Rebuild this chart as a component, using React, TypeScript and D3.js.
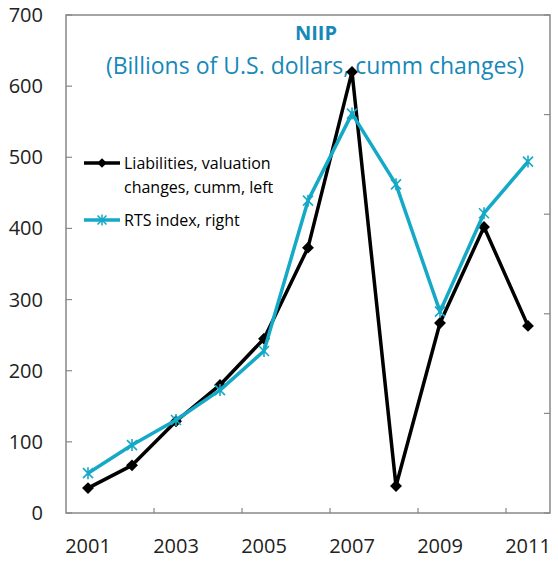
import React from "react";
import * as d3 from "d3";

const years = ["2001","2002","2003","2004","2005","2006","2007","2008","2009","2010","2011"];
const liabilities = [35, 67, 129, 180, 245, 373, 620, 38, 267, 402, 263];
const rts = [200, 341, 467, 617, 813, 1568, 2005, 1650, 1011, 1505, 1764];
const leftTicks = [0, 100, 200, 300, 400, 500, 600, 700];
const rightTicks = [0, 500, 1000, 1500, 2000, 2500];
const xLabels = ["2001","2003","2005","2007","2009","2011"];

const W = 558, H = 561;
const M = { left: 66, right: 8, top: 15, bottom: 48 };
const FONT = "'Open Sans', 'Noto Sans', sans-serif";
const CYAN = "#14a9c6";
const TITLE = "#1689b8";

export default function App() {
  const x = d3.scaleBand().domain(years).range([M.left, W - M.right]);
  const yL = d3.scaleLinear().domain([0, 700]).range([H - M.bottom, M.top]);
  const yR = d3.scaleLinear().domain([0, 2500]).range([H - M.bottom, M.top]);
  const cx = (d: string) => (x(d) as number) + x.bandwidth() / 2;
  const lineL = d3.line<number>().x((_, i) => cx(years[i])).y((d) => yL(d));
  const lineR = d3.line<number>().x((_, i) => cx(years[i])).y((d) => yR(d));
  const diamond = d3.symbol().type(d3.symbolDiamond2).size(90)() as string;
  const star = (s: number) => `M${-s},${-s}L${s},${s}M${-s},${s}L${s},${-s}M0,${-s * 1.2}L0,${s * 1.2}`;
  const x0 = M.left, x1 = W - M.right, yb = H - M.bottom, yt = M.top;
  const xTickPos = [2, 4, 6, 8, 10].map((k) => M.left + k * x.bandwidth());

  return (
    <svg width={W} height={H} style={{ position: "absolute", left: 0, top: 0 }} fontFamily={FONT}>
      <rect x={0} y={0} width={W} height={H} fill="#fff" />
      <rect x={x0} y={yt} width={x1 - x0} height={yb - yt} fill="none" stroke="#888" strokeWidth={1.5} />
      {leftTicks.map((t) => (
        <g key={"l" + t}>
          <line x1={x0} x2={x0 + 6} y1={yL(t)} y2={yL(t)} stroke="#888" strokeWidth={1.2} />
          <text x={43} y={yL(t) + 7} fontSize={20} textAnchor="end" fill="#222">{t}</text>
        </g>
      ))}
      {rightTicks.map((t) => (
        <line key={"r" + t} x1={x1 - 6} x2={x1} y1={yR(t)} y2={yR(t)} stroke="#888" strokeWidth={1.2} />
      ))}
      {xTickPos.map((p, i) => (
        <line key={"xt" + i} x1={p} x2={p} y1={yb} y2={yb - 5} stroke="#888" strokeWidth={1.2} />
      ))}
      {xLabels.map((l) => (
        <text key={l} x={cx(l)} y={553} fontSize={20} textAnchor="middle" fill="#222">{l}</text>
      ))}
      <text x={316} y={40} fontSize={20} fontWeight="bold" textAnchor="middle" fill={TITLE}>NIIP</text>
      <text x={315} y={74} fontSize={23} textAnchor="middle" fill={TITLE}>(Billions of U.S. dollars, cumm changes)</text>

      <path d={lineL(liabilities) as string} fill="none" stroke="#000" strokeWidth={3.5} strokeLinejoin="round" />
      {liabilities.map((v, i) => (
        <path key={"d" + i} d={diamond} transform={`translate(${cx(years[i])},${yL(v)})`} fill="#000" />
      ))}
      <path d={lineR(rts) as string} fill="none" stroke={CYAN} strokeWidth={3.5} strokeLinejoin="round" />
      {rts.map((v, i) => (
        <path key={"s" + i} d={star(5)} transform={`translate(${cx(years[i])},${yR(v)})`} stroke={CYAN} strokeWidth={1.6} fill="none" />
      ))}

      <line x1={84} x2={120} y1={163} y2={163} stroke="#000" strokeWidth={3.5} />
      <path d={d3.symbol().type(d3.symbolDiamond2).size(60)() as string} transform="translate(102,163)" fill="#000" />
      <text x={124} y={169} fontSize={16} fill="#000">Liabilities, valuation</text>
      <text x={124} y={193} fontSize={16} fill="#000">changes, cumm, left</text>
      <line x1={84} x2={120} y1={220} y2={220} stroke={CYAN} strokeWidth={3.5} />
      <path d={star(4.5)} transform="translate(102,220)" stroke={CYAN} strokeWidth={1.5} fill="none" />
      <text x={124} y={226} fontSize={16} fill="#000">RTS index, right</text>
    </svg>
  );
}
